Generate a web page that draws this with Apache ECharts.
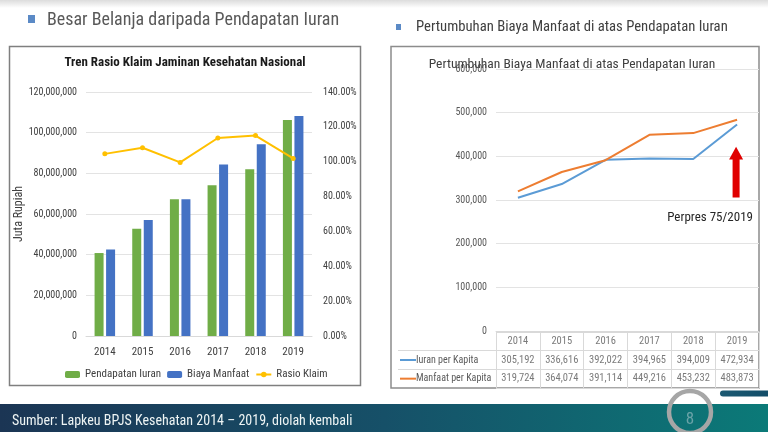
<!DOCTYPE html>
<html><head><meta charset="utf-8">
<script src="https://cdn.jsdelivr.net/npm/echarts@6/dist/echarts.min.js"></script>
<style>html,body{margin:0;padding:0;background:#fff}#c{width:768px;height:432px}</style>
</head><body><div id="c"></div>
<script>
// ---- data ----
const years = ['2014', '2015', '2016', '2017', '2018', '2019'];
const pendapatanIuran = [40.8e6, 52.8e6, 67.3e6, 74.2e6, 82.0e6, 106.2e6];
const biayaManfaat = [42.6e6, 57.0e6, 67.2e6, 84.4e6, 94.3e6, 108.2e6];
const rasioKlaim = [104.5, 108.0, 99.6, 113.6, 115.0, 101.9];
const iuranPerKapita = [305192, 336616, 392022, 394965, 394009, 472934];
const manfaatPerKapita = [319724, 364074, 391114, 449216, 453232, 483873];
const tableRows = ['', 'Iuran per Kapita', 'Manfaat per Kapita'];
const leftTicksMax = 120000000, leftTicksStep = 20000000;
const rightPctMax = 140, rightPctStep = 20;
const perKapitaMax = 600000, perKapitaStep = 100000;

const F = "'Liberation Sans Narrow', 'Roboto Condensed', 'Open Sans', sans-serif";
const fmt = v => Number(v).toLocaleString('en-US');

const chart = echarts.init(document.getElementById('c'), null, {renderer: 'canvas'});

const tableData = [];
years.forEach((y, i) => {
  tableData.push({value: [i, 0], label: {formatter: y}});
  tableData.push({value: [i, 1], label: {formatter: fmt(iuranPerKapita[i])}});
  tableData.push({value: [i, 2], label: {formatter: fmt(manfaatPerKapita[i])}});
});

const option = {
  animation: false,
  textStyle: {fontFamily: F},
  grid: [
    {left: 86, top: 92, width: 226, height: 244},
    {left: 496, top: 69, width: 263, height: 262},
    {left: 496, top: 332, width: 263, height: 56, show: false}
  ],
  legend: {
    data: ['Pendapatan Iuran', 'Biaya Manfaat', 'Rasio Klaim'],
    left: 60, top: 364, itemGap: 6, itemWidth: 15, itemHeight: 7,
    textStyle: {fontFamily: F, fontSize: 11, color: '#404040'}
  },
  xAxis: [
    {gridIndex: 0, type: 'category', data: years,
     axisLine: {lineStyle: {color: '#d9d9d9'}}, axisTick: {show: false},
     axisLabel: {color: '#404040', fontSize: 11, margin: 11, fontFamily: F}},
    {gridIndex: 1, type: 'category', data: years,
     axisLine: {lineStyle: {color: '#d9d9d9'}}, axisTick: {show: false},
     axisLabel: {show: false}},
    {gridIndex: 2, type: 'category', data: years,
     axisLine: {show: false}, axisTick: {show: false}, axisLabel: {show: false},
     splitLine: {show: true, interval: 0, lineStyle: {color: '#d9d9d9'}}}
  ],
  yAxis: [
    {gridIndex: 0, type: 'value', min: 0, max: leftTicksMax, interval: leftTicksStep,
     name: 'Juta Rupiah', nameLocation: 'middle', nameGap: 54,
     nameTextStyle: {color: '#404040', fontSize: 12, fontFamily: F},
     axisLine: {show: false}, axisTick: {show: false},
     splitLine: {lineStyle: {color: '#e3e3e3'}},
     axisLabel: {color: '#404040', fontSize: 10, margin: 9, formatter: fmt, fontFamily: F}},
    {gridIndex: 0, type: 'value', min: 0, max: rightPctMax, interval: rightPctStep,
     position: 'right', axisLine: {show: false}, axisTick: {show: false}, splitLine: {show: false},
     axisLabel: {color: '#404040', fontSize: 10, margin: 11, formatter: v => v.toFixed(2) + '%', fontFamily: F}},
    {gridIndex: 1, type: 'value', min: 0, max: perKapitaMax, interval: perKapitaStep,
     axisLine: {show: false}, axisTick: {show: false},
     splitLine: {lineStyle: {color: '#e3e3e3'}},
     axisLabel: {color: '#595959', fontSize: 10, margin: 9, formatter: fmt, fontFamily: F}},
    {gridIndex: 2, type: 'category', data: tableRows, inverse: true,
     axisLine: {show: false}, axisTick: {show: false},
     splitLine: {show: true, interval: 0, lineStyle: {color: '#d9d9d9'}},
     axisLabel: {align: 'left', margin: 96, fontFamily: F, fontSize: 10, color: '#595959',
       formatter: (v, idx) => idx === 1 ? '{kb|}{t|' + v + '}' : idx === 2 ? '{ko|}{t|' + v + '}' : '',
       rich: {
         kb: {width: 16, height: 2, backgroundColor: '#5B9BD5'},
         ko: {width: 16, height: 2, backgroundColor: '#ED7D31'},
         t: {fontFamily: F, fontSize: 10, color: '#595959'}
       }}}
  ],
  series: [
    {name: 'Pendapatan Iuran', type: 'bar', xAxisIndex: 0, yAxisIndex: 0, data: pendapatanIuran,
     barWidth: 9, barGap: '28%', itemStyle: {color: '#70AD47'}},
    {name: 'Biaya Manfaat', type: 'bar', xAxisIndex: 0, yAxisIndex: 0, data: biayaManfaat,
     barWidth: 9, barGap: '28%', itemStyle: {color: '#4472C4'}},
    {name: 'Rasio Klaim', type: 'line', xAxisIndex: 0, yAxisIndex: 1, data: rasioKlaim,
     symbol: 'circle', symbolSize: 5, lineStyle: {color: '#FFC000', width: 2},
     itemStyle: {color: '#FFC000'}},
    {name: 'Iuran per Kapita', type: 'line', xAxisIndex: 1, yAxisIndex: 2, data: iuranPerKapita,
     symbol: 'none', lineStyle: {color: '#5B9BD5', width: 2}, itemStyle: {color: '#5B9BD5'}},
    {name: 'Manfaat per Kapita', type: 'line', xAxisIndex: 1, yAxisIndex: 2, data: manfaatPerKapita,
     symbol: 'none', lineStyle: {color: '#ED7D31', width: 2}, itemStyle: {color: '#ED7D31'}},
    {name: 'table', type: 'scatter', xAxisIndex: 2, yAxisIndex: 3, data: tableData,
     symbolSize: 0, silent: true,
     label: {show: true, position: 'inside', fontFamily: F, fontSize: 10.5, color: '#595959'}}
  ]
};
chart.setOption(option);

// ---- decorations (layout) ----
const p19a = chart.convertToPixel({xAxisIndex: 1, yAxisIndex: 2}, ['2019', 306000]);
const p19b = chart.convertToPixel({xAxisIndex: 1, yAxisIndex: 2}, ['2019', 393000]);
const p19c = chart.convertToPixel({xAxisIndex: 1, yAxisIndex: 2}, ['2019', 422000]);
const ax = p19a[0] - 1;

chart.setOption({
  graphic: [
    {type: 'rect', z: -10, shape: {x: 0, y: 0, width: 768, height: 8},
     style: {fill: new echarts.graphic.LinearGradient(0, 0, 0, 1, [{offset: 0, color: '#dcdcdc'}, {offset: 1, color: '#ffffff'}])}},
    // boxes
    {type: 'rect', z: -5, shape: {x: 9.5, y: 46.5, width: 351, height: 339},
     style: {fill: '#fff', stroke: '#7f7f7f', lineWidth: 1.5}},
    {type: 'rect', z: -5, shape: {x: 391, y: 46.5, width: 368, height: 341.5},
     style: {fill: '#fff', stroke: '#8c8c8c', lineWidth: 1.5}},
    // headers
    {type: 'rect', shape: {x: 28, y: 15, width: 7, height: 8}, style: {fill: '#5b8ac6'}},
    {type: 'text', x: 47, y: 20, style: {text: 'Besar Belanja daripada Pendapatan Iuran', fill: '#595959',
      font: '18px ' + F, verticalAlign: 'middle'}},
    {type: 'rect', shape: {x: 396, y: 24, width: 5, height: 6}, style: {fill: '#5b8ac6'}},
    {type: 'text', x: 416, y: 27, style: {text: 'Pertumbuhan Biaya Manfaat di atas Pendapatan Iuran', fill: '#404040',
      font: '14.7px ' + F, verticalAlign: 'middle'}},
    // chart titles
    {type: 'text', x: 185, y: 63, z: 10, style: {text: 'Tren Rasio Klaim Jaminan Kesehatan Nasional', fill: '#1a1a1a',
      font: 'bold 13px ' + F, align: 'center', verticalAlign: 'middle'}},
    {type: 'text', x: 572, y: 65, z: 10, style: {text: 'Pertumbuhan Biaya Manfaat di atas Pendapatan Iuran', fill: '#404040',
      font: '13.5px ' + F, align: 'center', verticalAlign: 'middle'}},
    // table label column lines
    {type: 'line', shape: {x1: 398, y1: 350.5, x2: 496, y2: 350.5}, style: {stroke: '#d9d9d9', lineWidth: 1}},
    {type: 'line', shape: {x1: 398, y1: 369.5, x2: 496, y2: 369.5}, style: {stroke: '#d9d9d9', lineWidth: 1}},
    // arrow
    {type: 'polygon', z: 10, shape: {points: [
      [ax - 3.5, p19a[1]], [ax + 3.5, p19a[1]], [ax + 3.5, p19b[1]], [ax + 7, p19b[1]],
      [ax, p19c[1]], [ax - 7, p19b[1]], [ax - 3.5, p19b[1]]]}, style: {fill: '#e00000'}},
    {type: 'text', x: 753, y: 218, style: {text: 'Perpres 75/2019', fill: '#262626', font: '13px ' + F,
      align: 'right', verticalAlign: 'middle'}},
    // footer
    {type: 'rect', shape: {x: 0, y: 404, width: 768, height: 28},
     style: {fill: new echarts.graphic.LinearGradient(0, 0, 1, 0, [
       {offset: 0, color: '#1b3554'}, {offset: 0.5, color: '#165068'}, {offset: 1, color: '#0b7a78'}])}},
    {type: 'text', x: 12, y: 421, style: {text: 'Sumber: Lapkeu BPJS Kesehatan 2014 \u2013 2019, diolah kembali',
      fill: '#eef4f4', font: '14px ' + F, verticalAlign: 'middle'}},
    {type: 'rect', shape: {x: 720, y: 390.5, width: 60, height: 6, r: 3},
     style: {fill: new echarts.graphic.LinearGradient(0, 0, 1, 0, [{offset: 0, color: '#1c5a72'}, {offset: 1, color: '#104a66'}])}},
    {type: 'circle', z: 10, shape: {cx: 690, cy: 412, r: 21}, style: {fill: 'none', stroke: '#a6a6a6', lineWidth: 4.5}},
    {type: 'text', z: 11, x: 690, y: 420, style: {text: '8', fill: '#6aa3a8', font: '17px ' + F,
      align: 'center', verticalAlign: 'middle'}}
  ]
});
</script>
</body></html>
